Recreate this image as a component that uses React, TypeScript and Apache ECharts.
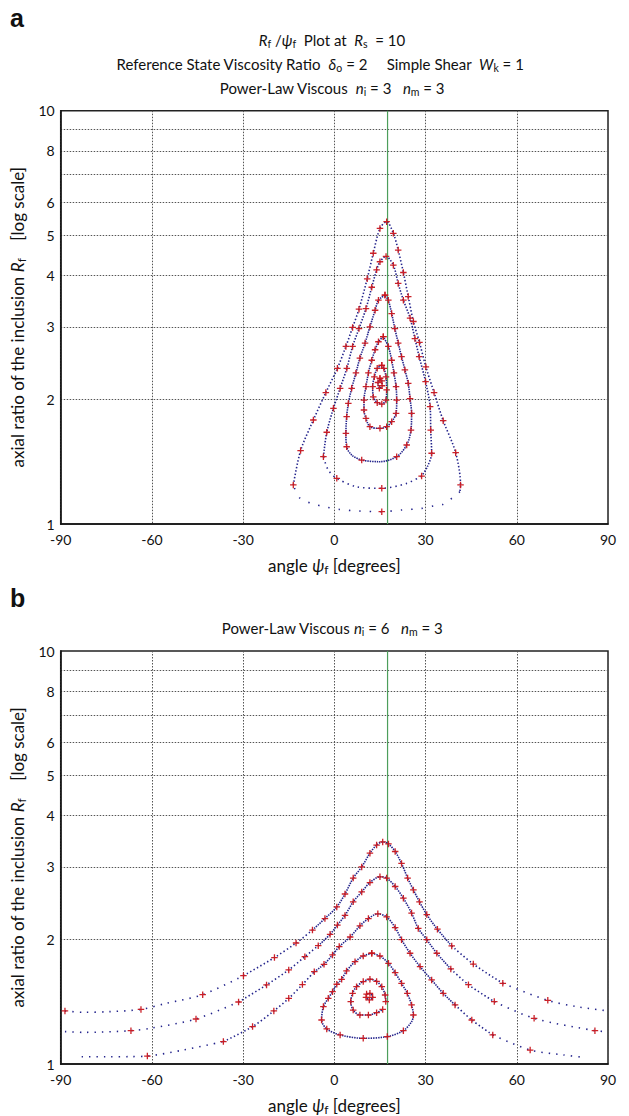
import React, { useEffect, useRef } from "react";
import * as echarts from "echarts";

// [psi (deg), Rf, red marker 1/0]
type P = [number, number, number];

const xTickStep = 30;
const yGridValues = [2, 3, 4, 5, 6, 7, 8, 9];
const yLabelValues = [1, 2, 3, 4, 5, 6, 8, 10];
const greenPsi = 17.5;

// ---------- panel a ----------
const aOrbit1: P[] = [
  [-13.5, 1.243, 1], [-11.1, 1.505, 1], [-6.9, 1.785, 1], [-2.8, 2.08, 1], [1.0, 2.38, 1],
  [3.8, 2.69, 1], [6.0, 2.99, 1], [8.1, 3.31, 1], [10.8, 3.92, 1], [12.8, 4.52, 1],
  [15.0, 5.19, 1], [17.2, 5.39, 1], [19.4, 5.05, 1], [21.0, 4.6, 1], [22.7, 4.06, 1],
  [24.3, 3.55, 1], [26.0, 3.09, 1], [28.0, 2.75, 1], [30.1, 2.4, 1], [32.8, 2.08, 1],
  [35.8, 1.778, 1], [39.9, 1.488, 1], [41.5, 1.243, 1], [41.3, 1.197, 0],
];
const aOrbit1Tail: P[] = [
  [41.3, 1.197, 0], [35.8, 1.116, 0], [33.1, 1.108, 0], [28.7, 1.091, 0], [22.1, 1.081, 0],
  [15.6, 1.071, 1], [8.1, 1.075, 0], [1.6, 1.085, 0], [-3.1, 1.101, 0], [-6.9, 1.118, 0],
  [-11.3, 1.154, 0], [-13.5, 1.243, 0],
];
const aOrbit2: P[] = [
  [-3.6, 1.455, 1], [-2.5, 1.667, 1], [-0.3, 1.905, 1], [1.9, 2.13, 1], [4.1, 2.38, 1],
  [6.0, 2.69, 1], [8.1, 2.97, 1], [10.4, 3.32, 1], [12.3, 3.74, 1], [13.9, 4.12, 1],
  [15.0, 4.31, 1], [17.0, 4.44, 1], [19.4, 4.23, 1], [21.0, 3.82, 1], [22.7, 3.48, 1],
  [24.9, 3.15, 1], [26.5, 2.81, 1], [27.9, 2.54, 1], [30.0, 2.21, 1], [31.5, 1.922, 1],
  [31.7, 1.688, 1], [32.0, 1.483, 1], [30.6, 1.376, 0], [28.7, 1.306, 1],
];
const aOrbit2Tail: P[] = [
  [28.7, 1.306, 0], [23.8, 1.254, 0], [15.6, 1.22, 1], [7.3, 1.231, 0], [0.8, 1.29, 1],
  [-2.0, 1.351, 0], [-3.6, 1.455, 0],
];
const aOrbit3: P[] = [
  [16.65, 3.58, 1], [14.5, 3.48, 1], [13.4, 3.29, 1], [11.7, 3.0, 1], [10.1, 2.74, 1],
  [8.4, 2.52, 1], [7.1, 2.32, 1], [5.7, 2.13, 1], [4.6, 1.958, 1], [4.05, 1.818, 1],
  [3.8, 1.657, 1], [4.05, 1.538, 1], [5.7, 1.469, 0], [9.0, 1.428, 1], [15.0, 1.415, 0],
  [20.5, 1.455, 1], [23.8, 1.553, 1], [25.2, 1.688, 1], [25.4, 1.852, 1], [24.9, 2.01, 1],
  [24.3, 2.19, 1], [23.2, 2.36, 1], [22.1, 2.54, 1], [21.0, 2.74, 1], [19.9, 2.97, 1],
  [18.85, 3.23, 1], [17.75, 3.48, 1], [16.65, 3.58, 1],
];
const aOrbit4: P[] = [
  [16.1, 2.84, 1], [14.5, 2.76, 1], [13.4, 2.64, 1], [12.3, 2.49, 1], [11.2, 2.32, 1],
  [10.4, 2.15, 1], [9.75, 1.995, 1], [9.75, 1.887, 1], [10.4, 1.801, 1], [11.7, 1.72, 1],
  [15.0, 1.704, 1], [17.2, 1.72, 1], [18.85, 1.768, 1], [20.3, 1.852, 1], [20.5, 1.995, 1],
  [20.3, 2.15, 1], [19.6, 2.32, 1], [18.85, 2.49, 1], [17.75, 2.69, 1], [16.1, 2.84, 1],
];
const aOrbit5: P[] = [
  [15.6, 2.42, 1], [14.1, 2.38, 1], [13.15, 2.27, 1], [12.6, 2.15, 1], [12.8, 2.03, 1],
  [14.1, 1.966, 1], [15.6, 1.951, 1], [17.0, 1.995, 1], [17.2, 2.11, 1], [17.0, 2.27, 1],
  [16.3, 2.38, 1], [15.6, 2.42, 1],
];
const aCore: P[] = [
  [15.0, 2.25, 1], [14.35, 2.2, 1], [14.8, 2.13, 1], [15.7, 2.16, 1], [15.6, 2.22, 1], [15.0, 2.25, 1],
];

// ---------- panel b ----------
const bCurveA: P[] = [
  [-88.6, 1.344, 1], [-82.6, 1.334, 0], [-73.8, 1.339, 0], [-63.6, 1.356, 1], [-55.2, 1.403, 0],
  [-43.3, 1.472, 1], [-29.9, 1.636, 1], [-19.7, 1.81, 1], [-12.6, 1.963, 1], [-7.2, 2.11, 1],
  [-3.1, 2.25, 1], [0.8, 2.4, 1], [3.5, 2.58, 1], [6.2, 2.82, 1], [9.0, 3.0, 1],
  [11.7, 3.24, 1], [13.9, 3.39, 1], [15.9, 3.45, 1], [17.8, 3.41, 1], [20.0, 3.27, 1],
  [22.1, 3.06, 1], [24.1, 2.82, 1], [26.0, 2.64, 1], [28.0, 2.47, 1], [30.4, 2.3, 1],
  [33.9, 2.12, 1], [38.6, 1.931, 1], [45.7, 1.746, 1], [55.4, 1.568, 1], [70.2, 1.426, 1],
  [79.7, 1.377, 0], [89.6, 1.346, 0],
];
const bCurveB: P[] = [
  [-88.6, 1.198, 0], [-82.6, 1.193, 0], [-66.9, 1.204, 1], [-60.6, 1.22, 0], [-45.5, 1.285, 1],
  [-31.5, 1.413, 1], [-22.3, 1.554, 1], [-15.0, 1.69, 1], [-9.7, 1.819, 1], [-5.3, 1.934, 1],
  [-1.4, 2.06, 1], [1.0, 2.17, 1], [3.5, 2.29, 1], [6.2, 2.47, 1], [9.0, 2.61, 1],
  [11.7, 2.75, 1], [15.0, 2.84, 1], [17.2, 2.82, 1], [20.0, 2.69, 1], [22.7, 2.52, 1],
  [25.4, 2.32, 1], [27.6, 2.13, 1], [30.4, 2.0, 1], [33.7, 1.854, 1], [38.3, 1.699, 1],
  [44.1, 1.556, 1], [52.6, 1.416, 1], [65.7, 1.29, 1], [85.7, 1.204, 1], [89.6, 1.198, 0],
];
const bCurveC: P[] = [
  [-83.1, 1.041, 0], [-74.1, 1.041, 0], [-67.2, 1.042, 0], [-61.5, 1.045, 1], [-49.7, 1.081, 0],
  [-36.5, 1.133, 1], [-26.9, 1.232, 1], [-19.9, 1.344, 1], [-15.0, 1.442, 1], [-10.5, 1.557, 1],
  [-6.6, 1.673, 1], [-3.4, 1.743, 1], [-0.6, 1.837, 1], [1.6, 1.924, 1], [5.2, 2.03, 1],
  [8.4, 2.16, 1], [11.2, 2.25, 1], [14.3, 2.31, 1], [17.2, 2.27, 1], [20.0, 2.14, 1],
  [22.1, 2.0, 1], [24.9, 1.854, 1], [28.2, 1.721, 1], [32.0, 1.598, 1], [35.8, 1.483, 1],
  [39.7, 1.39, 1], [45.2, 1.278, 1], [52.1, 1.176, 1], [64.4, 1.081, 1], [75.3, 1.052, 0],
  [81.9, 1.038, 0],
];
const bLoopD: P[] = [
  [12.3, 1.854, 1], [9.5, 1.826, 1], [6.8, 1.769, 1], [4.0, 1.68, 1], [2.4, 1.603, 1],
  [0.8, 1.56, 1], [-0.6, 1.497, 1], [-2.0, 1.442, 1], [-3.6, 1.377, 1], [-4.2, 1.278, 1],
  [-2.5, 1.216, 1], [1.9, 1.176, 1], [9.5, 1.154, 1], [17.4, 1.165, 1], [22.7, 1.204, 1],
  [25.4, 1.266, 0], [26.0, 1.314, 1], [25.4, 1.39, 1], [24.0, 1.483, 1], [22.1, 1.568, 1],
  [20.0, 1.664, 1], [17.8, 1.753, 1], [15.0, 1.826, 1], [12.3, 1.854, 1],
];
const bLoopE: P[] = [
  [16.9, 1.416, 1], [16.7, 1.469, 1], [15.6, 1.539, 1], [13.9, 1.585, 1], [11.7, 1.604, 1],
  [9.5, 1.583, 1], [7.3, 1.539, 1], [6.0, 1.483, 1], [5.4, 1.416, 1], [6.2, 1.351, 1],
  [8.4, 1.314, 1], [11.2, 1.314, 1], [13.9, 1.331, 1], [15.9, 1.356, 1],
];
const bCoreE: P[] = [
  [10.6, 1.477, 1], [11.7, 1.483, 1], [12.6, 1.45, 1], [11.5, 1.429, 1], [10.4, 1.45, 1],
];

const FONT = "Lato, 'Noto Sans', sans-serif";
const BLUE = "#23238c";
const RED = "#c8161e";
const PLUS = "path://M4,0H6V4H10V6H6V10H4V6H0V4H4Z";

const lg = (v: number) => Math.log10(v);

// split an open curve at psi breakpoints into contiguous segments (shared end points)
function splitAt(pts: P[], breaks: number[]): P[][] {
  const segs: P[][] = breaks.map(() => []).concat([[]]);
  pts.forEach((p) => {
    let k = 0;
    while (k < breaks.length && p[0] > breaks[k]) k++;
    segs[k].push(p);
  });
  const out: P[][] = [];
  for (let k = 0; k < segs.length; k++) {
    const s = segs[k].slice();
    if (k + 1 < segs.length && segs[k + 1].length) s.push(segs[k + 1][0]);
    out.push(s);
  }
  return out;
}

function lineS(idx: number, pts: P[], gap: number) {
  return {
    type: "line",
    xAxisIndex: idx,
    yAxisIndex: idx,
    data: pts.map((p) => [p[0], lg(p[1])]),
    showSymbol: false,
    symbol: "none",
    smooth: 0.3,
    silent: true,
    z: 3,
    lineStyle: { color: BLUE, width: 1.6, type: [1.4, gap] },
  };
}
function markS(idx: number, pts: P[]) {
  return {
    type: "scatter",
    xAxisIndex: idx,
    yAxisIndex: idx,
    data: pts.filter((p) => p[2] === 1).map((p) => [p[0], lg(p[1])]),
    symbol: PLUS,
    symbolSize: 6.5,
    silent: true,
    z: 4,
    itemStyle: { color: RED, opacity: 0.95 },
  };
}
function greenS(idx: number) {
  return {
    type: "line",
    xAxisIndex: idx,
    yAxisIndex: idx,
    data: [[greenPsi, 0], [greenPsi, 1]],
    showSymbol: false,
    symbol: "none",
    silent: true,
    z: 2,
    lineStyle: { color: "#4d9e5b", width: 1.2 },
  };
}

const richAxis = {
  n: { fontSize: 17, fontFamily: FONT, color: "#111" },
  i: { fontSize: 17, fontFamily: FONT, fontStyle: "italic", color: "#111" },
  s: { fontSize: 12, fontFamily: FONT, color: "#111", padding: [8, 0, 0, 0] },
};
const richG = {
  n: { fontSize: 15, fontFamily: FONT, fill: "#111" },
  i: { fontSize: 15, fontFamily: FONT, fontStyle: "italic", fill: "#111" },
  s: { fontSize: 10.5, fontFamily: FONT, fill: "#111", padding: [7, 0, 0, 0] },
};

function xAx(idx: number) {
  return {
    gridIndex: idx,
    type: "value",
    min: -90,
    max: 90,
    interval: xTickStep,
    axisLine: { show: true, onZero: false, lineStyle: { color: "#111", width: 1.5 } },
    axisTick: { show: false },
    axisLabel: { color: "#111", fontSize: 14, fontFamily: FONT, margin: 8 },
    splitLine: { show: true, lineStyle: { color: "#555", width: 1, type: [1.5, 1.5] } },
    name: "{n|angle }{i|ψ}{s|f}{n| [degrees]}",
    nameLocation: "middle",
    nameGap: 31,
    nameTextStyle: { rich: richAxis },
  };
}
function yAx(idx: number) {
  return {
    gridIndex: idx,
    type: "value",
    min: 0,
    max: 1,
    axisLine: { show: true, onZero: false, lineStyle: { color: "#111", width: 1.5 } },
    axisTick: { show: false, customValues: yGridValues.map(lg) },
    axisLabel: {
      customValues: yLabelValues.map(lg),
      formatter: (v: number) => String(Math.round(Math.pow(10, v))),
      color: "#111",
      fontSize: 14,
      lineHeight: 13,
      fontFamily: FONT,
      margin: 6,
    },
    splitLine: { show: true, lineStyle: { color: "#555", width: 1, type: [1.5, 1.5] } },
    name: "{n|axial ratio of the inclusion }{i|R}{s|f}{n|    [log scale]}",
    nameLocation: "middle",
    nameGap: 23,
    nameRotate: 90,
    nameTextStyle: { rich: richAxis },
  };
}

function gText(x: number, y: number, text: string) {
  return {
    type: "text",
    x,
    y,
    style: { text, rich: richG, align: "center", verticalAlign: "middle", fontSize: 15, fontFamily: FONT, fill: "#111" },
  };
}

export default function App() {
  const ref = useRef<HTMLDivElement>(null);
  useEffect(() => {
    if (!ref.current) return;
    const chart = echarts.init(ref.current, undefined, { renderer: "svg" });

    const series: any[] = [greenS(0), greenS(1)];
    // panel a
    series.push(lineS(0, aOrbit1, 2));
    series.push(lineS(0, aOrbit2, 1.5));
    [aOrbit3, aOrbit4, aOrbit5, aCore].forEach((o) => series.push(lineS(0, o, 0.9)));
    series.push(lineS(0, aOrbit1Tail, 9));
    series.push(lineS(0, aOrbit2Tail, 4));
    [aOrbit1, aOrbit1Tail, aOrbit2, aOrbit2Tail, aOrbit3, aOrbit4, aOrbit5, aCore].forEach((o) =>
      series.push(markS(0, o))
    );
    // panel b
    const gaps = [6, 2.5, 1, 2.5, 6];
    [bCurveA, bCurveB, bCurveC].forEach((c) => {
      splitAt(c, [-40, -8, 38, 48]).forEach((seg, k) => {
        if (seg.length > 1) series.push(lineS(1, seg, gaps[k]));
      });
      series.push(markS(1, c));
    });
    [bLoopD, bLoopE, bCoreE].forEach((o) => {
      series.push(lineS(1, o, 1));
      series.push(markS(1, o));
    });

    chart.setOption({
      animation: false,
      backgroundColor: "#fff",
      grid: [
        { left: 60.7, top: 110.7, width: 547.3, height: 413.3, show: true, borderColor: "#222", borderWidth: 1.5 },
        { left: 60.7, top: 651, width: 547.3, height: 413, show: true, borderColor: "#222", borderWidth: 1.5 },
      ],
      xAxis: [xAx(0), xAx(1)],
      yAxis: [yAx(0), yAx(1)],
      series,
      graphic: [
        {
          type: "text",
          x: 10,
          y: 5,
          style: { text: "a", fontSize: 25, fontWeight: "bold", fontFamily: "'Liberation Sans', Arial, sans-serif", fill: "#111" },
        },
        {
          type: "text",
          x: 10,
          y: 585,
          style: { text: "b", fontSize: 25, fontWeight: "bold", fontFamily: "'Liberation Sans', Arial, sans-serif", fill: "#111" },
        },
        gText(332, 40, "{i|R}{s|f}{n| /}{i|ψ}{s|f}{n|  Plot at  }{i|R}{s|s}{n|  = 10}"),
        gText(320, 64, "{n|Reference State Viscosity Ratio  }{i|δ}{s|o}{n| = 2     Simple Shear  }{i|W}{s|k}{n| = 1}"),
        gText(332, 88, "{n|Power-Law Viscous  }{i|n}{s|i}{n| = 3   }{i|n}{s|m}{n| = 3}"),
        gText(332, 628, "{n|Power-Law Viscous }{i|n}{s|i}{n| = 6   }{i|n}{s|m}{n| = 3}"),
      ],
    });
    return () => chart.dispose();
  }, []);
  return (
    <div
      ref={ref}
      style={{ position: "absolute", left: 0, top: 0, width: 629, height: 1116, background: "#fff" }}
    />
  );
}
